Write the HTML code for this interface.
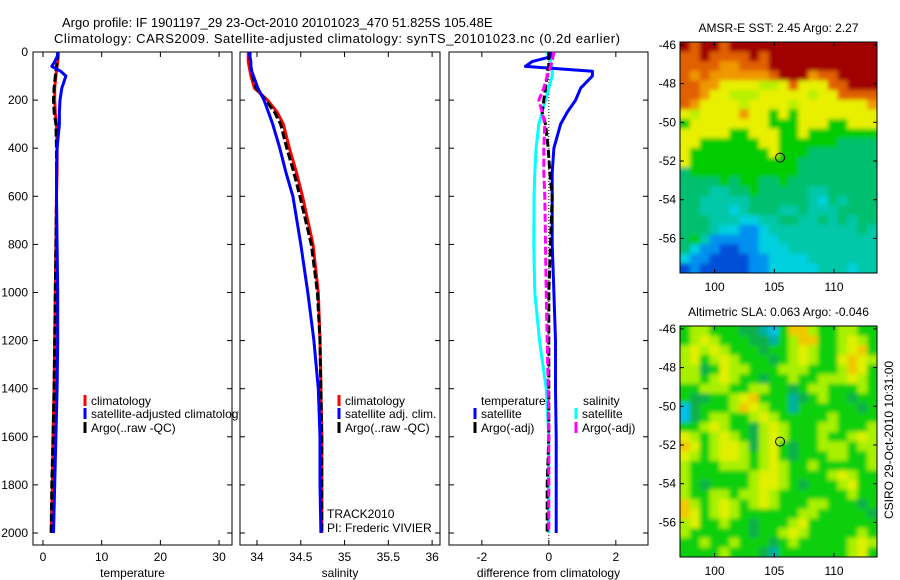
<!DOCTYPE html>
<html><head><meta charset="utf-8">
<style>
html,body{margin:0;padding:0;background:#fff;}
svg{display:block;font-family:"Liberation Sans",sans-serif;}
text{font-size:12px;fill:#000;}
</style></head>
<body>
<svg id="chart" width="900" height="580" viewBox="0 0 900 580">
<defs>
<clipPath id="clip1"><rect x="33" y="52" width="206" height="493"/></clipPath>
<clipPath id="clip2"><rect x="240" y="52" width="200" height="493"/></clipPath>
<clipPath id="clip3"><rect x="449" y="52" width="199" height="493"/></clipPath>
<clipPath id="clipMapA"><rect x="680" y="42" width="197" height="231"/></clipPath>
<clipPath id="clipMapB"><rect x="680" y="326" width="197" height="231"/></clipPath>
<filter id="soft" x="-5%" y="-5%" width="110%" height="110%"><feGaussianBlur stdDeviation="2.2"/></filter>
</defs>
<text x="62" y="27" style="font-size:13px">Argo profile: IF 1901197_29 23-Oct-2010 20101023_470 51.825S 105.48E</text>
<text x="54" y="43" textLength="566" style="font-size:13px">Climatology: CARS2009. Satellite-adjusted climatology: synTS_20101023.nc (0.2d earlier)</text>
<g id="layer"></g>
</svg>
<script>
// ---- data ----
const depths = [0,20,40,60,80,100,150,200,250,300,400,500,600,800,1000,1200,1400,1600,1800,2000];
const tempClim = [2.6,2.6,2.5,2.4,2.3,2.2,2.0,2.0,2.1,2.3,2.4,2.4,2.3,2.2,2.1,2.0,1.9,1.7,1.6,1.4];
const tempSat = [2.6,2.4,2.0,1.5,3.0,3.9,3.2,2.9,2.8,2.8,2.4,2.3,2.3,2.4,2.5,2.5,2.4,2.2,2.0,1.8];
const tempArgo = [2.5,2.5,2.4,2.3,2.2,2.1,1.9,1.8,1.9,2.2,2.3,2.3,2.3,2.2,2.1,2.0,1.9,1.7,1.5,1.4];
const salClim = [33.90,33.90,33.90,33.91,33.92,33.93,33.97,34.12,34.23,34.30,34.37,34.45,34.52,34.64,34.70,34.72,34.73,34.74,34.74,34.74];
const salSat = [33.91,33.92,33.93,33.93,33.94,33.96,34.01,34.08,34.13,34.18,34.26,34.33,34.41,34.50,34.58,34.65,34.70,34.72,34.72,34.73];
const salArgo = [33.92,33.92,33.92,33.93,33.94,33.95,33.99,34.10,34.20,34.27,34.34,34.42,34.49,34.62,34.69,34.72,34.73,34.74,34.74,34.74];
const dTempSat = [0.1,0.05,-0.5,-0.7,1.3,1.3,0.95,0.8,0.55,0.35,0.15,0.1,0.1,0.1,0.15,0.2,0.2,0.22,0.22,0.22];
const dTempArgo = [0,0,0,0,-0.05,-0.05,-0.1,-0.15,-0.2,-0.1,-0.02,0.03,0.1,0.05,0,0,0,0,-0.05,-0.05];
const dSalSat = [-0.05,0,0.05,0.1,0.1,0.1,0,-0.1,-0.2,-0.3,-0.38,-0.42,-0.44,-0.45,-0.42,-0.28,-0.08,0,0,0];
const dSalArgo = [0.15,0.12,0.1,0.05,0,-0.05,-0.15,-0.3,-0.2,-0.12,-0.15,-0.15,-0.12,-0.1,-0.08,-0.05,-0.02,0,0,0];
const depthTicks = [0,200,400,600,800,1000,1200,1400,1600,1800,2000];
const tempTicks = [0,10,20,30];
const salTicks = [34,34.5,35,35.5,36];
const salTickLabels = ["34","34.5","35","35.5","36"];
const diffTicks = [-2,0,2];
const latTicks = [-46,-48,-50,-52,-54,-56];
const lonTicks = [100,105,110];
const floatLon = 105.48, floatLat = -51.825;
const sstGrid = [
"RORRORRRRRRRRRRRRRRR","OOROOOORORRRRRRRRRRR","OOOOooOOORRRRRRRRRRR","OoOooooooORRRoOORRRR",
"OOooYYYYyyYOYYYOORRR","OOoYYyyyYYYYYyYYOOOO","OoYYYYyYYYYyYYYYYYYo","YyYYYYoYYGYGYYYYYYYY",
"GYYYYYYYYGGGYYYGGYYY","YYYYYGGYYYGGYGGGGGGG","YYGGGGGGYYGGGGGGgggg","YGGGGGGGGYGGGggggggg",
"YGGGGGGGGGGGgggggggg","gGGGGGGGGGGGgggggggg","ggggGgGGggGggggggggg","gggccggGgggggccggggg",
"ggcccccggggggcCgcggg","ggcccCcgggccgcccgggg","gggcccCCccggccgcgcgg","gggcCCBBCcccccccccgc",
"gGcBBBBBCCcccccccccc","gCBBDDBBCCCccccccccc","CBBDDDDBBCCCCccccccc","DBDDDDDBBCCCCCcccCcc"];
const slaGrid = [
"GllGGGddcCGoolGGllGG","GlYlGGGddcGlooGGlYlG","lYlYlGGGdGGlYlGGlYoG","lYGlYlGGGdGlYlGGYoYl",
"lldGYllGGGlllGGGloYG","llGlYlGGdGGlGGlllYlG","GGlllGGllGGdGllGGGlG","GddGGlYoGGGcdGlGGdGG",
"CdGGGloYlGGcGGGGGGdG","CdGllGGlYlGGGGGlGGGG","GGlYlGGdlYlGGGllGGGl","YlGlYlGdlYlGGGlGGlYl",
"oYGlYYldlYGdGGlllGll","YlGlYYlGlYGdGGGllGGl","lGGGlllGlYlGGlGGGGGl","lGGGGGGlYYlGGGGlYlGG",
"lGdGGGGlYYlGdGGGlYGG","lGGllGllYlGGGGGGGlGG","olGlYlGlYlGGGllGGGdG","oYGlYlGGGGGGllGGGGGd",
"lYGGlGGdGGGlYGGGGGGG","lGGGGGGdGGlYlGGGGGlG","GGlGGlGGGdGlGGGGGlYl","GGGGlGGGdcGGGGGGGlYG"];

const NS='http://www.w3.org/2000/svg';
const layer=document.getElementById('layer');
function mk(tag,attrs,parent){const e=document.createElementNS(NS,tag);for(const k in attrs)e.setAttribute(k,attrs[k]);(parent||layer).appendChild(e);return e;}
function txt(x,y,s,anchor,parent){const t=mk('text',{x:x,y:y,'text-anchor':anchor||'start'},parent);t.textContent=s;return t;}

const yTop=52, yBot=545;
const yD=d=>52+d*0.2405;

const panels=[
 {x0:33,x1:232,vmin:-1.7,vmax:32.2,ticks:tempTicks,labels:tempTicks.map(String),title:'temperature',name:'temperature',clip:'clip1',lbl:true},
 {x0:240,x1:440,vmin:33.806,vmax:36.09,ticks:salTicks,labels:salTickLabels,title:'salinity',name:'salinity',clip:'clip2'},
 {x0:449,x1:648,vmin:-2.98,vmax:2.96,ticks:diffTicks,labels:['-2','0','2'],title:'difference from climatology',name:'difference',clip:'clip3'}
];
panels.forEach(p=>{p.sx=v=>p.x0+(v-p.vmin)/(p.vmax-p.vmin)*(p.x1-p.x0);});

panels.forEach((p,i)=>{
  const g=mk('g',{});
  
  
  mk('rect',{x:p.x0,y:yTop,width:p.x1-p.x0,height:yBot-yTop,fill:'#fff',stroke:'#000','stroke-width':1},g);
  p.ticks.forEach((t,j)=>{
    const x=p.sx(t);
    mk('line',{x1:x,y1:yBot,x2:x,y2:yBot-5,stroke:'#000'},g);
    mk('line',{x1:x,y1:yTop,x2:x,y2:yTop+5,stroke:'#000'},g);
    const tl=txt(x,561,p.labels[j],'middle',g);
    
    
  });
  depthTicks.forEach(d=>{
    const y=yD(d);
    mk('line',{x1:p.x0,y1:y,x2:p.x0+5,y2:y,stroke:'#000'},g);
    mk('line',{x1:p.x1,y1:y,x2:p.x1-5,y2:y,stroke:'#000'},g);
    if(p.lbl){const tl=txt(28,y+4,String(d),'end',g);
      
      }
  });
  const at=txt((p.x0+p.x1)/2,577,p.title,'middle',g);
  
  
});

function line(p,vals,color,dash,name,w){
  const pts=vals.map((v,i)=>p.sx(v).toFixed(1)+','+yD(depths[i]).toFixed(1)).join(' ');
  const a={points:pts,fill:'none',stroke:color,'stroke-width':w||3,'clip-path':'url(#'+p.clip+')','stroke-linejoin':'round'};
  if(dash)a['stroke-dasharray']=dash;
  const e=mk('polyline',a);
  
  
}
const P1=panels[0],P2=panels[1],P3=panels[2];
line(P1,tempClim,'#ff0000',null,'temp-climatology-line');
line(P1,tempArgo,'#000000','8,3','temp-argo-line');
line(P1,tempSat,'#0000ff',null,'temp-satellite-line');
line(P2,salClim,'#ff0000',null,'sal-climatology-line');
line(P2,salArgo,'#000000','8,3','sal-argo-line');
line(P2,salSat,'#0000ff',null,'sal-satellite-line');
const z=mk('line',{x1:P3.sx(0),y1:yTop,x2:P3.sx(0),y2:yBot,stroke:'#000','stroke-width':1,'stroke-dasharray':'1,2'});


line(P3,dSalSat,'#00ffff',null,'diff-sal-satellite-line');
line(P3,dTempSat,'#0000ff',null,'diff-temp-satellite-line');
line(P3,dTempArgo,'#000000','8,3','diff-temp-argo-line');
line(P3,dSalArgo,'#ff00ff','8,3','diff-sal-argo-line');

function legend(x,y,color,label,name,clip){
  const g=mk('g',clip?{'clip-path':'url(#'+clip+')'}:{});
  
  
  mk('rect',{x:x-1.5,y:y-10,width:3,height:11,fill:color},g);
  txt(x+6,y,label,'start',g);
}
legend(85,405,'#ff0000','climatology','legend-temp-climatology','clip1');
legend(85,418,'#0000ff','satellite-adjusted climatology','legend-temp-satellite','clip1');
legend(85,432,'#000000','Argo(..raw -QC)','legend-temp-argo','clip1');
legend(339,405,'#ff0000','climatology','legend-sal-climatology');
legend(339,418,'#0000ff','satellite adj. clim.','legend-sal-satellite');
legend(339,432,'#000000','Argo(..raw -QC)','legend-sal-argo');
const tt=txt(481,405,'temperature');
const st=txt(583,405,'salinity');
legend(475,418,'#0000ff','satellite','legend-diff-temp-satellite');
legend(475,432,'#000000','Argo(-adj)','legend-diff-temp-argo');
legend(576,418,'#00ffff','satellite','legend-diff-sal-satellite');
legend(576,432,'#ff00ff','Argo(-adj)','legend-diff-sal-argo');
const t1=txt(327,518,'TRACK2010');
const t2=txt(327,532,'PI: Frederic VIVIER');

const sstColors={R:'#a00000',O:'#e06000',o:'#f09800',Y:'#e8f000',y:'#b8f000',G:'#00cc00',g:'#00c070',c:'#00c8a8',C:'#00d0e0',B:'#0090f0',D:'#0050d8'};
const slaColors={G:'#10d010',d:'#10b048',l:'#a8f000',Y:'#e0f000',o:'#f0c800',c:'#00b0a0',C:'#00c0e8'};
function map(top,bot,grid,colors,title,name,clipId){
  const x0=680,x1=877,lon0=97.1,lon1=113.6;
  const latTop=-45.85, latBot=latTop-(bot-top)/19.35;
  const sx=v=>x0+(v-lon0)/(lon1-lon0)*(x1-x0);
  const sy=v=>top+(latTop-v)/(latTop-latBot)*(bot-top);
  const g=mk('g',{});
  
  
  const cg=mk('g',{'clip-path':'url(#'+clipId+')'},g);
  const bg=mk('g',{filter:'url(#soft)'},cg);
  const rows=grid.length,cols=grid[0].length;
  const cw=(x1-x0)/cols,ch=(bot-top)/rows;
  grid.forEach((r,i)=>{for(let j=0;j<cols;j++){
    let xx=x0+j*cw, yy=top+i*ch, ww=cw+0.6, hh=ch+0.6;
    if(j===0){xx-=6;ww+=6;} if(j===cols-1){ww+=6;}
    if(i===0){yy-=6;hh+=6;} if(i===rows-1){hh+=6;}
    mk('rect',{x:xx.toFixed(2),y:yy.toFixed(2),width:ww.toFixed(2),height:hh.toFixed(2),fill:colors[r[j]]||'#0c0'},bg);
  }});
  mk('rect',{x:x0,y:top,width:x1-x0,height:bot-top,fill:'none',stroke:'#000'},g);
  latTicks.forEach(v=>{const y=sy(v);
    mk('line',{x1:x0,y1:y,x2:x0+4,y2:y,stroke:'#000'},g);
    mk('line',{x1:x1,y1:y,x2:x1-4,y2:y,stroke:'#000'},g);
    const l=txt(x0-4,y+4,String(v),'end',g);
    
    });
  lonTicks.forEach(v=>{const x=sx(v);
    mk('line',{x1:x,y1:bot,x2:x,y2:bot-4,stroke:'#000'},g);
    mk('line',{x1:x,y1:top,x2:x,y2:top+4,stroke:'#000'},g);
    const l=txt(x,bot+18,String(v),'middle',g);
    
    });
  const c=mk('circle',{cx:sx(floatLon),cy:sy(floatLat),r:4.5,fill:'none',stroke:'#000','stroke-width':1},g);
  
  
  const tt=txt((x0+x1)/2,top-10,title,'middle',g);
  
  
}
map(42,273,sstGrid,sstColors,'AMSR-E SST: 2.45 Argo: 2.27','sst-map','clipMapA');
map(326,557,slaGrid,slaColors,'Altimetric SLA: 0.063 Argo: -0.046','sla-map','clipMapB');
const cs=mk('text',{x:0,y:0,transform:'translate(893,440) rotate(-90)','text-anchor':'middle'});
cs.textContent='CSIRO 29-Oct-2010 10:31:00';


</script>
</body></html>
